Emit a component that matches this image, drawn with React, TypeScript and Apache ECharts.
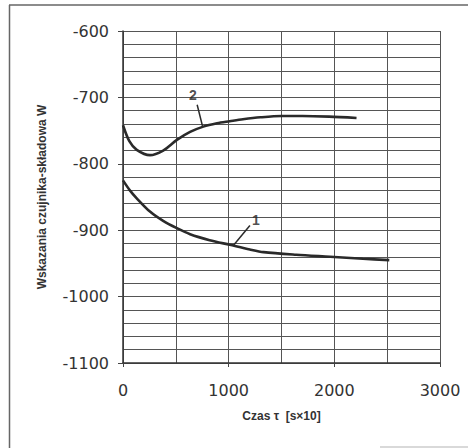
import React, { useEffect, useRef } from "react";
import * as echarts from "echarts";

const xTicks = [0, 1000, 2000, 3000];
const curve1: [number, number][] = [
  [0, -825], [65, -840], [130, -852], [255, -872], [380, -886], [510, -897],
  [635, -906], [820, -915], [1010, -922], [1200, -929], [1330, -933],
  [1640, -937], [1960, -940], [2270, -943], [2520, -945],
];
const curve2: [number, number][] = [
  [0, -742], [60, -766], [130, -779], [255, -787], [380, -780], [510, -764],
  [635, -752], [760, -744], [890, -739], [1010, -736], [1135, -733],
  [1300, -730], [1500, -728], [1700, -728], [1950, -729], [2210, -731],
];
const labelPoints: { name: string; value: [number, number] }[] = [
  { name: "2", value: [662, -697] },
  { name: "1", value: [1258, -884] },
];
const leader2: [number, number][] = [[702, -711], [752, -743]];
const leader1: [number, number][] = [[1201, -893], [1044, -923]];

const FONT = "'DejaVu Sans', sans-serif";
const BOLD = "'Liberation Sans', Arial, sans-serif";

export default function App() {
  const ref = useRef<HTMLDivElement>(null);
  useEffect(() => {
    if (!ref.current) return;
    const chart = echarts.init(ref.current, null, { renderer: "svg" });
    const gridColor = "#555";
    chart.setOption({
      animation: false,
      backgroundColor: "#fff",
      grid: { left: 123, right: 28, top: 31, bottom: 85 },
      xAxis: {
        type: "value",
        min: xTicks[0],
        max: xTicks[xTicks.length - 1],
        interval: 1000,
        name: "Czas \u03c4  [s\u00d710]",
        nameLocation: "middle",
        nameGap: 47,
        nameTextStyle: { fontFamily: BOLD, fontWeight: "bold", fontSize: 12, color: "#333" },
        axisLine: { show: true, lineStyle: { color: "#333", width: 1.5 } },
        axisTick: { show: true, length: 4, lineStyle: { color: "#444" } },
        axisLabel: { margin: 19, fontFamily: FONT, fontSize: 16, color: "#333", formatter: (v: number) => String(v) },
        splitLine: { show: true, lineStyle: { color: gridColor, width: 1 } },
        minorTick: { show: false, splitNumber: 2 },
        minorSplitLine: { show: true, lineStyle: { color: gridColor, width: 1 } },
      },
      yAxis: {
        type: "value",
        min: -1100,
        max: -600,
        interval: 100,
        name: "Wskazania czujnika-sk\u0142adowa W",
        nameLocation: "middle",
        nameGap: 75,
        nameTextStyle: { fontFamily: BOLD, fontWeight: "bold", fontSize: 12, color: "#333" },
        axisLine: { show: true, lineStyle: { color: "#333", width: 1.5 } },
        axisTick: { show: true, length: 5, lineStyle: { color: "#444" } },
        axisLabel: { margin: 14, fontFamily: FONT, fontSize: 16, color: "#333", formatter: (v: number) => String(v) },
        splitLine: { show: true, lineStyle: { color: gridColor, width: 1 } },
        minorTick: { show: false, splitNumber: 5 },
        minorSplitLine: { show: true, lineStyle: { color: gridColor, width: 1 } },
      },
      series: [
        {
          type: "line",
          data: curve1,
          smooth: 0.3,
          showSymbol: false,
          lineStyle: { color: "#2a2a2a", width: 2.6 },
        },
        {
          type: "line",
          data: curve2,
          smooth: 0.3,
          showSymbol: false,
          lineStyle: { color: "#2a2a2a", width: 2.6 },
        },
        {
          type: "line",
          data: leader2,
          showSymbol: false,
          lineStyle: { color: "#2a2a2a", width: 1.5 },
        },
        {
          type: "line",
          data: leader1,
          showSymbol: false,
          lineStyle: { color: "#2a2a2a", width: 1.5 },
        },
        {
          type: "scatter",
          data: labelPoints,
          symbolSize: 0,
          itemStyle: { color: "#222" },
          label: {
            show: true,
            formatter: (p: any) => p.name,
            position: [0, 0],
            align: "center",
            verticalAlign: "middle",
            fontFamily: BOLD,
            fontWeight: "bold",
            fontSize: 14,
            color: "#222",
          },
        },
      ],
      graphic: [
        { type: "line", shape: { x1: 9, y1: 5, x2: 468, y2: 5 }, style: { stroke: "#666", lineWidth: 1.5 } },
        { type: "line", shape: { x1: 9.5, y1: 5, x2: 9.5, y2: 448 }, style: { stroke: "#666", lineWidth: 1.5 } },
        { type: "line", shape: { x1: 380, y1: 447, x2: 468, y2: 447 }, style: { stroke: "#ccc", lineWidth: 1.5 } },
      ],
    });
    return () => chart.dispose();
  }, []);
  return (
    <div
      ref={ref}
      style={{ position: "fixed", left: 0, top: 0, width: 468, height: 448 }}
    />
  );
}
